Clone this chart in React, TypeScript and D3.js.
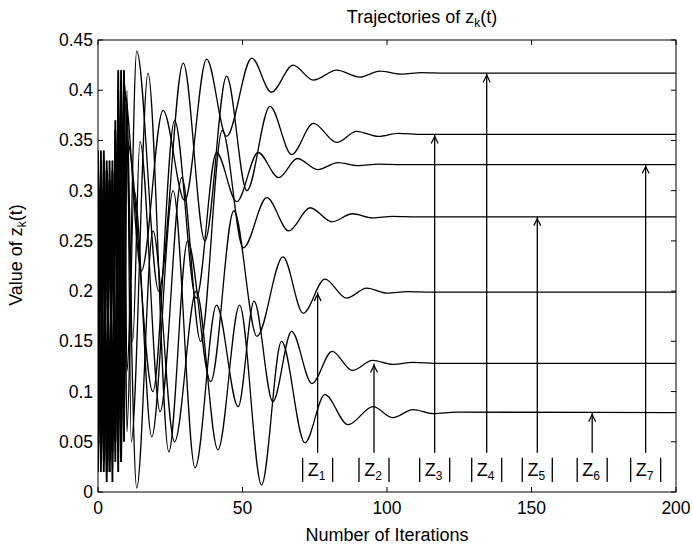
import * as d3 from 'd3';

const W = 692,
  H = 548;
const MARGIN = { top: 40, right: 16, bottom: 56, left: 98 };

// trajectories [iteration, value]
const z1: [number, number][] = [
  [0, 0.34], [1, 0.02], [2, 0.33], [3, 0.01], [4, 0.31], [5, 0.04], [6, 0.36], [7, 0.02], [8, 0.41], [9, 0.06], [10, 0.4],
  [11.5, 0.05], [17.3, 0.417], [24.5, 0.04], [31, 0.25], [39, 0.11], [47, 0.28], [55, 0.155], [64, 0.234], [71, 0.178],
  [78.5, 0.212], [86, 0.193], [93, 0.203], [100, 0.198], [107, 0.1995], [115, 0.199], [200, 0.199],
];
const z2: [number, number][] = [
  [0, 0.05], [1, 0.3], [2, 0.03], [3, 0.32], [4, 0.02], [5, 0.29], [6, 0.05], [7, 0.33], [8, 0.03], [9, 0.39], [10, 0.06],
  [12.5, 0.3], [18.6, 0.055], [26, 0.3], [33.6, 0.024], [41, 0.186], [48.5, 0.085], [54, 0.19], [60.5, 0.09], [67, 0.16],
  [74, 0.108], [81, 0.14], [88, 0.121], [95, 0.131], [102, 0.127], [109, 0.129], [118, 0.128], [200, 0.128],
];
const z3: [number, number][] = [
  [0, 0.02], [1, 0.33], [2, 0.04], [3, 0.32], [4, 0.03], [5, 0.3], [6, 0.05], [7, 0.4], [8, 0.08], [9, 0.42], [10, 0.12],
  [13.4, 0.439], [21, 0.2], [29.5, 0.427], [37, 0.25], [44.5, 0.414], [51.5, 0.3], [59.5, 0.384], [67, 0.336],
  [74.5, 0.367], [82.6, 0.348], [89.5, 0.359], [97, 0.354], [104, 0.357], [112, 0.356], [200, 0.356],
];
const z4: [number, number][] = [
  [0, 0.05], [1, 0.31], [2, 0.02], [3, 0.33], [4, 0.06], [5, 0.32], [6, 0.03], [7, 0.42], [8, 0.05], [9, 0.4],
  [15, 0.22], [22.5, 0.38], [30, 0.29], [37.6, 0.431], [44.5, 0.354], [53.2, 0.432], [60, 0.398], [67.5, 0.425],
  [74.5, 0.41], [82.6, 0.42], [90.6, 0.413], [97.5, 0.419], [105, 0.416], [112, 0.4175], [120, 0.417], [200, 0.417],
];
const z5: [number, number][] = [
  [0, 0.33], [1, 0.04], [2, 0.3], [3, 0.02], [4, 0.33], [5, 0.05], [6, 0.37], [7, 0.04], [8, 0.42], [9, 0.1], [10, 0.38],
  [12, 0.15], [14.5, 0.349], [21.5, 0.08], [29, 0.313], [35.5, 0.15], [43, 0.36], [50.3, 0.243], [58.4, 0.293],
  [66, 0.26], [73.4, 0.283], [81, 0.269], [88, 0.277], [95, 0.273], [102, 0.2745], [110, 0.274], [200, 0.274],
];
const z6: [number, number][] = [
  [0, 0.03], [1, 0.34], [2, 0.05], [3, 0.3], [4, 0.02], [5, 0.33], [6, 0.06], [7, 0.38], [8, 0.03], [9, 0.41],
  [13.4, 0.004], [19, 0.26], [26.5, 0.05], [34, 0.2], [41.5, 0.042], [49, 0.186], [56.6, 0.007], [63.5, 0.15],
  [71.6, 0.049], [78.5, 0.097], [86.5, 0.067], [95.2, 0.085], [102, 0.074], [109, 0.082], [116, 0.078], [124, 0.0795],
  [200, 0.079],
];
const z7: [number, number][] = [
  [0, 0.32], [1, 0.03], [2, 0.34], [3, 0.06], [4, 0.31], [5, 0.01], [6, 0.35], [7, 0.07], [8, 0.4], [9, 0.05], [10, 0.35],
  [19, 0.1], [26.5, 0.37], [34, 0.193], [41, 0.338], [48, 0.289], [55.4, 0.338], [62.5, 0.313], [69, 0.332],
  [76, 0.321], [83, 0.328], [90, 0.325], [97, 0.3265], [105, 0.326], [200, 0.326],
];
const trajectories = [z1, z2, z3, z4, z5, z6, z7];

// |Z_k| annotations
const labelIndex = ['1', '2', '3', '4', '5', '6', '7'];
const arrowAt = [76, 95.5, 116.5, 134.5, 152, 171, 189.5];
const steady = [0.199, 0.128, 0.356, 0.417, 0.274, 0.079, 0.326];

const xTicks = [0, 50, 100, 150, 200];
const yTicks = [0, 0.05, 0.1, 0.15, 0.2, 0.25, 0.3, 0.35, 0.4, 0.45];

const FONT = '"Liberation Sans", Arial, Helvetica, sans-serif';

export default function App() {
  const x = d3.scaleLinear().domain([0, 200]).range([MARGIN.left, W - MARGIN.right]);
  const y = d3.scaleLinear().domain([0, 0.45]).range([H - MARGIN.bottom, MARGIN.top]);

  const line = d3
    .line<[number, number]>()
    .x((d) => x(d[0]))
    .y((d) => y(d[1]))
    .curve(d3.curveMonotoneX);

  // straight segments for the noisy start, drawn heavier so it reads as a black block
  const rough = d3
    .line<[number, number]>()
    .x((d) => x(d[0]))
    .y((d) => y(d[1]));

  const x0 = x(0),
    x1 = x(200),
    y0 = y(0),
    y1 = y(0.45);

  return (
    <svg width={W} height={H} style={{ position: 'absolute', left: 0, top: 0, background: '#fff' }} fontFamily={FONT}>
      <defs>
        <clipPath id="plot">
          <rect x={x0} y={y1} width={x1 - x0} height={y0 - y1} />
        </clipPath>
        <clipPath id="start">
          <rect x={x0} y={y1} width={x(9.5) - x0} height={y0 - y1} />
        </clipPath>
      </defs>

      <g clipPath="url(#plot)">
        {trajectories.map((d, i) => (
          <path key={i} d={line(d) ?? ''} fill="none" stroke="#000" strokeWidth={1.3} />
        ))}
      </g>
      <g clipPath="url(#start)">
        {trajectories.map((d, i) => (
          <path key={i} d={rough(d) ?? ''} fill="none" stroke="#000" strokeWidth={1.8} />
        ))}
      </g>

      {/* arrows and labels */}
      {arrowAt.map((t, i) => {
        const ax = x(t);
        const tip = y(steady[i]);
        return (
          <g key={i} stroke="#000" fill="none">
            <line x1={ax} x2={ax} y1={y(0.039)} y2={tip} strokeWidth={1.3} />
            <path d={`M${ax - 3.5},${tip + 9} L${ax},${tip + 2} L${ax + 3.5},${tip + 9}`} strokeWidth={1.2} />
            <line x1={ax - 15} x2={ax - 15} y1={y(0.034)} y2={y(0.01)} strokeWidth={1.3} />
            <line x1={ax + 15} x2={ax + 15} y1={y(0.034)} y2={y(0.01)} strokeWidth={1.3} />
            <text x={ax - 1} y={y(0.016)} textAnchor="middle" fontSize={18} fill="#000" stroke="none">
              Z
              <tspan fontSize={12} dy={4}>
                {labelIndex[i]}
              </tspan>
            </text>
          </g>
        );
      })}

      {/* frame */}
      <rect x={x0} y={y1} width={x1 - x0} height={y0 - y1} fill="none" stroke="#000" strokeWidth={1} />
      {xTicks.map((t) => (
        <g key={t}>
          <line x1={x(t)} x2={x(t)} y1={y0} y2={y0 - 5} stroke="#000" />
          <line x1={x(t)} x2={x(t)} y1={y1} y2={y1 + 5} stroke="#000" />
          <text x={x(t)} y={y0 + 22} textAnchor="middle" fontSize={17.5}>
            {t}
          </text>
        </g>
      ))}
      {yTicks.map((t) => (
        <g key={t}>
          <line x1={x0} x2={x0 + 5} y1={y(t)} y2={y(t)} stroke="#000" />
          <line x1={x1} x2={x1 - 5} y1={y(t)} y2={y(t)} stroke="#000" />
          <text x={x0 - 5} y={y(t)} textAnchor="end" dominantBaseline="central" fontSize={17.5}>
            {d3.format('~g')(t)}
          </text>
        </g>
      ))}

      {/* titles */}
      <text x={422} y={23} textAnchor="middle" fontSize={18}>
        Trajectories of z
        <tspan fontSize={12} dy={4}>
          k
        </tspan>
        <tspan dy={-4}>(t)</tspan>
      </text>
      <text x={(x0 + x1) / 2} y={541} textAnchor="middle" fontSize={18}>
        Number of Iterations
      </text>
      <text transform={`translate(22,255) rotate(-90)`} textAnchor="middle" fontSize={18}>
        Value of z
        <tspan fontSize={12} dy={4}>
          k
        </tspan>
        <tspan dy={-4}>(t)</tspan>
      </text>
    </svg>
  );
}
